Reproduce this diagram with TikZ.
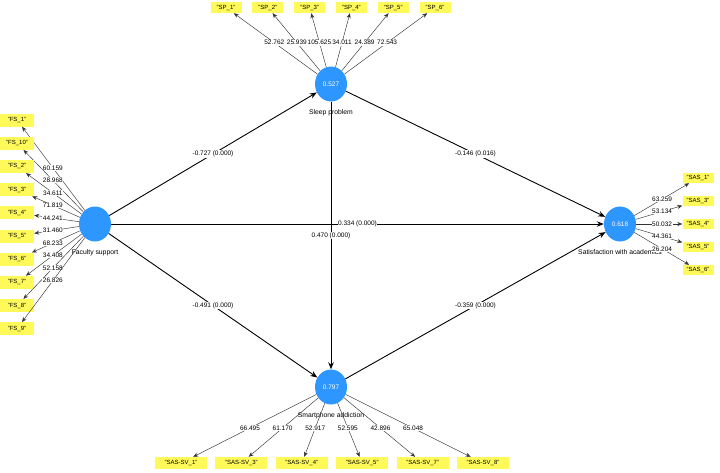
\documentclass[tikz,border=0pt]{standalone}
\usepackage{fontspec}
\setmainfont{Liberation Sans}
\definecolor{lvblue}{RGB}{45,150,255}
\definecolor{mvyellow}{RGB}{255,250,90}
\usetikzlibrary{shapes.geometric, arrows.meta, positioning, calc}
\newcommand{\smallpt}[1]{\fontsize{#1}{#1}\selectfont}

\begin{document}
\begin{tikzpicture}[x=1pt, y=-1pt,
    lv/.style={ellipse, fill=lvblue, minimum width=32pt, minimum height=35pt,
      inner sep=0pt, text=white, font=\smallpt{6.5}},
    lvname/.style={inner sep=0pt, font=\smallpt{6.8}},
    mv/.style={fill=mvyellow, inner sep=0pt, font=\smallpt{6}},
    coef/.style={fill=white, inner sep=0.6pt, font=\smallpt{6.5}},
    structarrow/.style={-{Stealth[length=7pt, width=5.5pt]}, line width=0.9pt},
    loadarrow/.style={-{Stealth[length=5pt, width=4pt]}, line width=0.45pt,
      draw=black!80}]
  \useasboundingbox (0,0) rectangle (720,472);

  % latent variables
  \node[lv] (fs) at (95,224) {};
  \node[lv] (sp) at (331,84) {0.527};
  \node[lv] (sat) at (620,224) {0.618};
  \node[lv] (sa) at (331,387) {0.797};
  \node[lvname, below=8pt of fs] (fsname) {Faculty support};
  \node[lvname, below=8pt of sp] (spname) {Sleep problem};
  \node[lvname, below=8pt of sat] (satname) {Satisfaction with academics};
  \node[lvname, below=8pt of sa] (saname) {Smartphone addiction};

  % structural paths
  \draw[structarrow] (fs) -- node[coef] (c1) {-0.727 (0.000)} (sp);
  \draw[structarrow] (sp) -- node[coef] (c2) {-0.146 (0.016)} (sat);
  \draw[structarrow] (fs) -- node[coef] (c3) {0.334 (0.000)} (sat);
  \draw[structarrow] (sp) -- node[coef] (c4) {0.470 (0.000)} (sa);
  \draw[structarrow] (fs) -- node[coef] (c5) {-0.491 (0.000)} (sa);
  \draw[structarrow] (sa) -- node[coef] (c6) {-0.359 (0.000)} (sat);

  % indicators
  \foreach \name/\val [count=\i from 0] in {FS\_1/60.159, FS\_10/28.968,
      FS\_2/34.611, FS\_3/71.819, FS\_4/44.241, FS\_5/31.460, FS\_6/68.233,
      FS\_7/34.408, FS\_8/52.158, FS\_9/26.826} {
    \node[mv, minimum width=34pt, minimum height=13pt] (fs\i)
      at (17,120+23.2*\i) {"\name"};
    \draw[loadarrow] (fs) -- (fs\i);
    \node[coef] (fsv\i) at ($(fs)!.54!(fs\i)$) {\val};
  }
  \foreach \name/\val [count=\i from 0] in {SP\_1/52.762, SP\_2/25.939,
      SP\_3/105.625, SP\_4/34.011, SP\_5/24.389, SP\_6/72.543} {
    \node[mv, minimum width=31pt, minimum height=11pt] (sp\i)
      at (226+41.8*\i,7.5) {"\name"};
    \draw[loadarrow] (sp) -- (sp\i);
    \node[coef] (spv\i) at ($(sp)!.54!(sp\i)$) {\val};
  }
  \foreach \name/\val [count=\i from 0] in {SAS\_1/63.259, SAS\_3/53.134,
      SAS\_4/50.032, SAS\_5/44.361, SAS\_6/26.204} {
    \node[mv, minimum width=31pt, minimum height=10pt] (sat\i)
      at (698,178+23*\i) {"\name"};
    \draw[loadarrow] (sat) -- (sat\i);
    \node[coef] (satv\i) at ($(sat)!.54!(sat\i)$) {\val};
  }
  \foreach \name/\val [count=\i from 0] in {SAS-SV\_1/66.495, SAS-SV\_3/61.170,
      SAS-SV\_4/52.917, SAS-SV\_5/52.595, SAS-SV\_7/42.896, SAS-SV\_8/65.048} {
    \node[mv, minimum width=52pt, minimum height=12pt] (sa\i)
      at (181+60.4*\i,463) {"\name"};
    \draw[loadarrow] (sa) -- (sa\i);
    \node[coef] (sav\i) at ($(sa)!.54!(sa\i)$) {\val};
  }
\end{tikzpicture}
\end{document}
